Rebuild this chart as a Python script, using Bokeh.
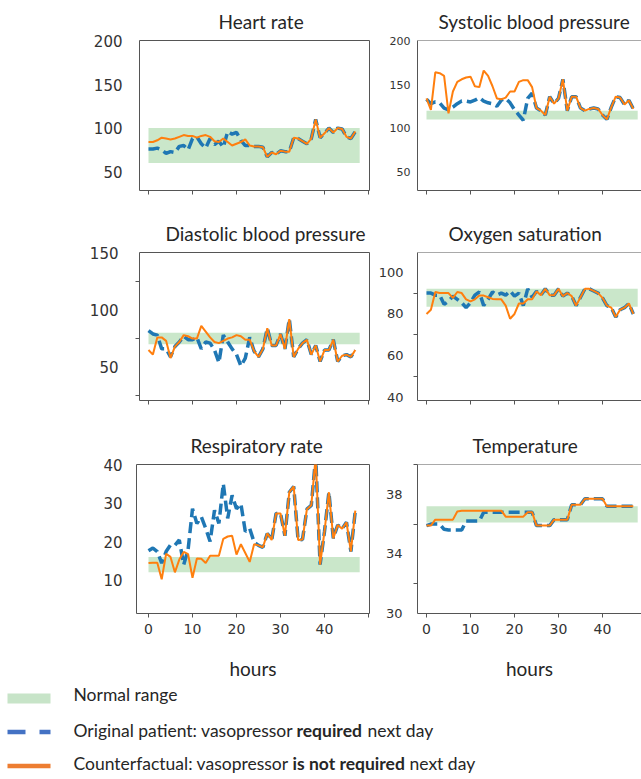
from bokeh.plotting import figure
from bokeh.layouts import column, row
from bokeh.models import FixedTicker, Range1d, Span
from bokeh.core.properties import value
from bokeh.embed import file_html
from bokeh.resources import INLINE

# ---------------- data ----------------
hours = list(range(48))
band_hours = [0, 48]

titles = ["Heart rate", "Systolic blood pressure", "Diastolic blood pressure",
          "Oxygen saturation", "Respiratory rate", "Temperature"]

hr_original = [76, 76, 77, 75, 71, 73, 72, 79, 80, 75, 88, 90, 82, 77, 88, 81, 85, 78, 96, 93,
               95, 86, 80, 80, 79, 79, 78, 67, 72, 70, 74, 73, 73, 89, 88, 85, 82, 88, 110, 89,
               94, 100, 95, 100, 99, 90, 88, 96]
hr_counterfactual = [84, 84, 86, 89, 88, 87, 88, 90, 92, 91, 91, 89, 91, 92, 90, 85, 84, 88, 84, 80,
                     82, 84, 87, 80, 79, 79, 78, 67, 72, 70, 74, 73, 73, 89, 88, 85, 82, 88, 110, 89,
                     94, 100, 95, 100, 99, 90, 88, 96]
hr_normal = [60, 100]

sbp_original = [133, 128, 130, 129, 123, 121, 124, 128, 131, 131, 130, 132, 135, 131, 129, 128, 125, 132,
                134, 129, 121, 115, 109, 134, 140, 123, 120, 115, 136, 128, 134, 156, 120, 136, 136, 123,
                120, 122, 123, 122, 115, 110, 124, 136, 135, 127, 132, 122]
sbp_counterfactual = [134, 121, 164, 163, 160, 117, 142, 153, 156, 158, 159, 148, 147, 166, 160, 148, 134,
                      133, 135, 142, 142, 153, 155, 155, 147, 123, 120, 115, 136, 128, 134, 156, 120, 136,
                      136, 123, 120, 122, 123, 122, 115, 110, 124, 136, 135, 127, 132, 122]
sbp_normal = [110, 120]

dbp_original = [82, 79, 78, 66, 66, 59, 68, 72, 77, 74, 74, 76, 66, 72, 71, 65, 54, 78, 72, 66,
                61, 51, 58, 76, 64, 59, 66, 84, 69, 69, 79, 66, 92, 59, 66, 71, 74, 61, 69, 55,
                65, 65, 74, 55, 60, 61, 59, 65]
dbp_counterfactual = [65, 61, 76, 76, 73, 58, 68, 72, 78, 77, 75, 75, 86, 81, 76, 72, 71, 73, 75, 76,
                      78, 77, 74, 74, 64, 59, 66, 84, 69, 69, 79, 66, 92, 59, 66, 71, 74, 61, 69, 55,
                      65, 65, 74, 55, 60, 61, 59, 65]
dbp_normal = [70, 80]

spo2_original = [90, 90, 89, 89, 84.6, 86, 88.5, 87, 85.4, 83, 85.4, 89, 90.5, 84, 87, 90.5, 89, 90,
                 89, 91, 88.5, 90, 84, 92, 88, 90.8, 89, 92, 89, 89, 92, 88.5, 90, 88.5, 84, 88, 92,
                 92, 91, 90, 87.7, 84, 83, 78.5, 82, 83, 85, 80]
spo2_counterfactual = [80, 82, 90.5, 90, 90, 90, 87.7, 90.5, 90, 87, 86, 87, 88.8, 88.8, 88, 87.2, 87,
                       87, 84, 77.7, 80, 85, 85, 87, 87, 90.8, 89, 92, 89, 89, 92, 88.5, 90, 88.5, 84,
                       88, 92, 92, 91, 90, 87.7, 84, 83, 78.5, 82, 83, 85, 80]
spo2_normal = [83.5, 92]

rr_original = [17.6, 18.3, 17.4, 14.4, 17.4, 19.1, 19, 20.4, 14, 17.9, 28.5, 24.7, 26.4, 23.4, 20, 28.1,
               24.7, 35, 26, 32, 28.5, 29.8, 22.6, 23.4, 19.8, 19, 18.5, 22.1, 20.4, 27.3, 27.3, 21.5,
               32.8, 34.3, 20.4, 20.5, 28.4, 29.4, 42, 14, 22.6, 32.8, 20.8, 24.3, 23.3, 25, 17.4, 28]
rr_counterfactual = [14.4, 14.5, 14.5, 10.2, 16.8, 16, 12, 15.3, 17.3, 16.7, 10.6, 15.6, 15.5, 14.4, 16.3,
                     16.3, 16.3, 20.7, 21.3, 21.5, 16.6, 19.3, 17, 14.7, 19.3, 19, 18.5, 22.1, 20.4, 27.3,
                     27.3, 21.5, 32.8, 34.3, 20.4, 20.5, 28.4, 29.4, 42, 14, 22.6, 32.8, 20.8, 24.3, 23.3,
                     25, 17.4, 28]
rr_normal = [12, 16]

temp_original = [35.9, 36.0, 36.0, 36.0, 35.65, 35.6, 35.6, 35.6, 35.6, 36.2, 36.2, 36.2, 36.2, 36.8,
                 36.8, 36.8, 36.8, 36.8, 36.8, 36.8, 36.8, 36.8, 36.8, 36.8, 36.8, 35.9, 35.9, 35.9,
                 35.9, 36.3, 36.3, 36.3, 36.3, 37.3, 37.3, 37.3, 37.7, 37.7, 37.7, 37.7, 37.7, 37.2,
                 37.2, 37.2, 37.2, 37.2, 37.2, 37.2]
temp_counterfactual = [35.9, 35.9, 36.3, 36.3, 36.3, 36.3, 36.3, 36.85, 36.9, 36.9, 36.9, 36.9, 36.9,
                       36.9, 36.9, 36.9, 36.9, 36.9, 36.5, 36.5, 36.5, 36.5, 36.5, 36.8, 36.8, 35.9,
                       35.9, 35.9, 35.9, 36.3, 36.3, 36.3, 36.3, 37.3, 37.3, 37.3, 37.7, 37.7, 37.7,
                       37.7, 37.7, 37.2, 37.2, 37.2, 37.2, 37.2, 37.2, 37.2]
temp_normal = [36.1, 37.2]

hr_ticks = [50, 100, 150, 200]
sbp_ticks = [50, 100, 150, 200]
dbp_ticks = [50, 100, 150]
dbp_minor = [25, 75, 125]
spo2_ticks = [40, 60, 80, 100]
spo2_minor = [50, 70, 90]
rr_ticks = [10, 20, 30, 40]
temp_ticks = [30, 34, 38]
temp_minor = [32, 36, 40]
x_ticks = [0, 10, 20, 30, 40, 50]
x_tick_labels = ["0", "10", "20", "30", "40", ""]
x_axis_label = "hours"

legend_labels = [["Normal range"],
                 ["Original patient: vasopressor", "required", "next day"],
                 ["Counterfactual: vasopressor", "is not required", "next day"]]

# ---------------- style ----------------
BLUE = "#1f77b4"
ORANGE = "#ff7f0e"
GREEN = "#2ca02c"
SPINE = "#555555"
TXT = "#262626"

ROW_H = [212, 212, 258]
ROW_TOP = [38, 38, 38]
FRAME_H = [152, 150, 151]
LEFT_W, RIGHT_W = 370, 271
PX_PER_HOUR = 4.4


def make_panel(title, orig, cf, normal, yr, ticks, minor, col, r, lab_size, standoff,
               title_left, frame_left_px=None):
    if col == 0:
        fl = 139 if frame_left_px is None else frame_left_px
        fw = LEFT_W - fl - 1
        width = LEFT_W
        mbr = 1
        page_frame_left = fl
        x0_px = 148
    else:
        fl = 47
        fw = RIGHT_W - fl
        width = RIGHT_W
        mbr = 0
        page_frame_left = LEFT_W + fl
        x0_px = 426
    xs = (page_frame_left - x0_px) / PX_PER_HOUR
    xe = xs + fw / PX_PER_HOUR
    h = ROW_H[r]
    p = figure(width=width, height=h, x_range=Range1d(xs, xe), y_range=Range1d(*yr),
               output_backend="svg", toolbar_location=None, title=title,
               min_border_left=fl, min_border_right=mbr, min_border_top=ROW_TOP[r],
               min_border_bottom=h - ROW_TOP[r] - FRAME_H[r])
    p.background_fill_color = "white"
    p.border_fill_color = "white"
    p.grid.visible = False

    p.title.align = "left"
    p.title.offset = title_left - page_frame_left
    p.title.text_font = "Lato"
    p.title.text_font_size = "19px"
    p.title.text_font_style = "normal"
    p.title.text_color = TXT
    p.title.text_line_height = 0.85
    p.title.standoff = 15

    p.varea(x=band_hours, y1=[normal[0]] * 2, y2=[normal[1]] * 2,
            fill_color=GREEN, fill_alpha=0.25)
    p.line(hours, orig, line_color=BLUE, line_width=3.5, line_dash="11 5")
    p.line(hours, cf, line_color=ORANGE, line_width=2)

    # y axis
    ya = p.yaxis[0]
    ya.ticker = FixedTicker(ticks=ticks, minor_ticks=minor)
    ya.major_tick_out = 0
    ya.major_tick_in = 0
    ya.minor_tick_out = 4
    ya.minor_tick_in = 0
    ya.minor_tick_line_color = SPINE
    ya.major_label_text_font = "DejaVu Sans"
    ya.major_label_text_font_size = f"{lab_size}px"
    ya.major_label_text_color = "#333333"
    ya.major_label_standoff = standoff

    # x axis
    xa = p.xaxis[0]
    xa.ticker = FixedTicker(ticks=x_ticks)
    xa.major_tick_out = 4
    xa.major_tick_in = 0
    xa.major_tick_line_color = SPINE
    xa.minor_tick_line_color = None
    if r == 2:
        xa.major_label_overrides = {t: l for t, l in zip(x_ticks, x_tick_labels)}
        xa.major_label_text_font = "DejaVu Sans"
        xa.major_label_text_font_size = "14px"
        xa.major_label_text_color = "#333333"
        xa.major_label_standoff = 6
        xa.axis_label = x_axis_label
        xa.axis_label_text_font = "Lato"
        xa.axis_label_text_font_size = "19px"
        xa.axis_label_text_font_style = "normal"
        xa.axis_label_text_color = TXT
        xa.axis_label_standoff = 20
    else:
        xa.major_label_overrides = {t: "" for t in x_ticks}

    if col == 0:
        p.outline_line_color = SPINE
        p.outline_line_width = 1
        p.outline_line_alpha = 1
        ya.axis_line_color = None
        xa.axis_line_color = None
    else:
        p.outline_line_color = None
        ya.axis_line_color = SPINE
        xa.axis_line_color = SPINE
        p.add_layout(Span(location=yr[1], dimension="width", line_color=SPINE, line_width=1))
    return p


p_hr = make_panel(titles[0], hr_original, hr_counterfactual, hr_normal, (28.4, 200.5), hr_ticks, [],
                  0, 0, 15, 17, 218)
p_sbp = make_panel(titles[1], sbp_original, sbp_counterfactual, sbp_normal, (28.4, 200.5), sbp_ticks, [],
                   1, 0, 11, 7, 438)
p_dbp = make_panel(titles[2], dbp_original, dbp_counterfactual, dbp_normal, (21, 150), dbp_ticks, dbp_minor,
                   0, 1, 15, 17, 165)
p_spo2 = make_panel(titles[3], spo2_original, spo2_counterfactual, spo2_normal, (38.6, 109.4), spo2_ticks,
                    spo2_minor, 1, 1, 13, 10, 448)
p_rr = make_panel(titles[4], rr_original, rr_counterfactual, rr_normal, (1.3, 40), rr_ticks, [],
                  0, 2, 15, 14, 190, frame_left_px=136)
p_temp = make_panel(titles[5], temp_original, temp_counterfactual, temp_normal, (30, 40), temp_ticks,
                    temp_minor, 1, 2, 13, 11, 472)

# ---------------- legend ----------------
LEG_W, LEG_H = 641, 97
leg = figure(width=LEG_W, height=LEG_H, x_range=Range1d(0, LEG_W), y_range=Range1d(LEG_H, 0),
             output_backend="svg", toolbar_location=None, x_axis_type=None, y_axis_type=None,
             min_border=0)
leg.outline_line_color = None
leg.grid.visible = False
leg.background_fill_color = "white"
leg.border_fill_color = "white"

leg.quad(left=[7], right=[50], top=[11], bottom=[21], fill_color="#c7e4c8", line_color=None)
leg.line([7, 50], [49.5, 49.5], line_color="#4472c4", line_width=4.5, line_dash="18 14")
leg.line([7, 50], [83.5, 83.5], line_color="#ed7d31", line_width=4.5)

font_kw = dict(text_font=value("Lato"), text_font_size=value("17.5px"), text_baseline="middle",
               text_color=TXT)
leg.text(x=[73, 73, 73], y=[12, 48, 81],
         text=[legend_labels[0][0], legend_labels[1][0], legend_labels[2][0]], **font_kw)
leg.text(x=[296, 292], y=[48, 81], text=[legend_labels[1][1], legend_labels[2][1]],
         text_font_style="bold", **font_kw)
leg.text(x=[367, 409], y=[48, 81], text=[legend_labels[1][2], legend_labels[2][2]], **font_kw)

layout = column(row(p_hr, p_sbp, spacing=0), row(p_dbp, p_spo2, spacing=0),
                row(p_rr, p_temp, spacing=0), leg, spacing=0)

open("out.html", "w").write(file_html(layout, INLINE))
